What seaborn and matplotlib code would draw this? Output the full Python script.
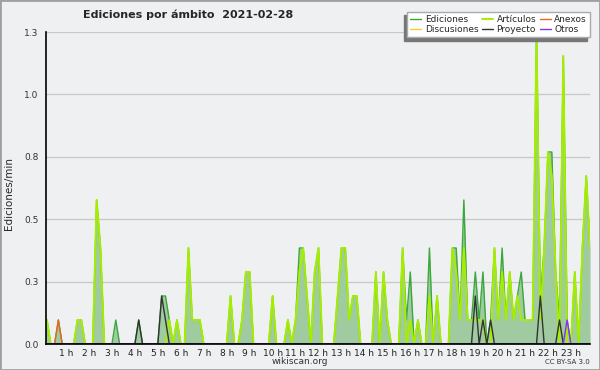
import numpy as np
import pandas as pd
import matplotlib
matplotlib.use("Agg")
import matplotlib.pyplot as plt
import seaborn as sns
from matplotlib.ticker import MultipleLocator, FixedLocator, FormatStrFormatter

# edits per 10-minute bin, 0:00 .. 23:50 (144 bins)
ediciones = [
    1, 1, 0, 0, 1, 0, 0, 0, 0, 1,
    1, 0, 0, 0, 6, 4, 0, 0, 0, 1,
    0, 0, 0, 0, 0, 1, 0, 0, 0, 0,
    0, 2, 2, 1, 0, 1, 0, 0, 4, 1,
    1, 1, 0, 0, 0, 0, 0, 0, 0, 2,
    0, 0, 1, 3, 3, 0, 0, 0, 0, 0,
    2, 0, 0, 0, 1, 0, 1, 4, 4, 2,
    0, 3, 4, 0, 0, 0, 0, 2, 4, 4,
    1, 2, 2, 0, 0, 0, 0, 3, 0, 3,
    1, 0, 0, 0, 4, 1, 3, 0, 1, 0,
    0, 4, 0, 2, 0, 0, 0, 4, 4, 1,
    6, 1, 1, 3, 1, 3, 0, 1, 4, 1,
    4, 1, 3, 1, 2, 3, 1, 1, 1, 13,
    2, 4, 8, 8, 3, 1, 12, 1, 0, 3,
    0, 4, 7, 4,
]
articulos = [
    1, 1, 0, 0, 0, 0, 0, 0, 0, 1,
    1, 0, 0, 0, 6, 4, 0, 0, 0, 0,
    0, 0, 0, 0, 0, 0, 0, 0, 0, 0,
    0, 0, 0, 1, 0, 1, 0, 0, 4, 1,
    1, 1, 0, 0, 0, 0, 0, 0, 0, 2,
    0, 0, 1, 3, 3, 0, 0, 0, 0, 0,
    2, 0, 0, 0, 1, 0, 1, 3, 4, 2,
    0, 3, 4, 0, 0, 0, 0, 2, 4, 4,
    1, 2, 2, 0, 0, 0, 0, 3, 0, 3,
    1, 0, 0, 0, 4, 0, 1, 0, 1, 0,
    0, 2, 0, 2, 0, 0, 0, 4, 3, 1,
    4, 1, 1, 1, 1, 1, 0, 0, 4, 1,
    3, 1, 3, 1, 2, 1, 1, 1, 1, 13,
    1, 4, 8, 7, 3, 0, 12, 0, 0, 3,
    0, 4, 7, 4,
]
proyecto = [0] * 144
for k, v in [(25, 1), (31, 2), (32, 1), (113, 2), (115, 1), (117, 1), (130, 2), (135, 1)]:
    proyecto[k] = v
anexos = [0] * 144
anexos[4] = 1
otros = [0] * 144
otros[137] = 1
discusiones = [0] * 144

hours = np.arange(144) / 6
hour_labels = [f"{h} h" for h in range(1, 24)]

# per-10-min counts -> edits per minute
series = {
    "Ediciones": np.array(ediciones) / 10,
    "Discusiones": np.array(discusiones) / 10,
    "Artículos": np.array(articulos) / 10,
    "Proyecto": np.array(proyecto) / 10,
    "Anexos": np.array(anexos) / 10,
    "Otros": np.array(otros) / 10,
}

bg = "#eff0f1"
sns.set_style("white")
plt.rcParams["font.family"] = ["DejaVu Sans"]

fig = plt.figure(figsize=(6, 3.7), dpi=100, facecolor=bg)
ax = fig.add_axes([45.5 / 600, 26 / 370, 544.5 / 600, 312 / 370])
ax.set_facecolor(bg)

ax.fill_between(hours, series["Ediciones"], color="#a0cba0", lw=0, zorder=1)

styles = [
    ("Ediciones", "#3aa83a", 1.0),
    ("Discusiones", "#ffcc33", 1.0),
    ("Artículos", "#a6ee00", 1.4),
    ("Anexos", "#ee6622", 1.0),
    ("Proyecto", "#333333", 1.0),
    ("Otros", "#8833ee", 1.0),
]
for name, col, lw in styles:
    sns.lineplot(x=hours, y=series[name], ax=ax, color=col, lw=lw,
                 label=name, estimator=None)

ax.set_xlim(0.105, 23.83)
ax.set_ylim(0, 1.3)
ax.yaxis.set_major_locator(FixedLocator([0, 0.26, 0.52, 0.78, 1.04, 1.3]))
ax.yaxis.set_major_formatter(FormatStrFormatter("%.1f"))
ax.yaxis.set_minor_locator(MultipleLocator(0.13))
ax.xaxis.set_major_locator(FixedLocator(list(range(1, 24))))
ax.set_xticklabels(hour_labels)
ax.xaxis.set_minor_locator(MultipleLocator(1 / 6))
ax.grid(axis="y", color="#c8c8c8", lw=0.9)
ax.set_axisbelow(True)

for s in ["top", "right"]:
    ax.spines[s].set_visible(False)
for s in ["left", "bottom"]:
    ax.spines[s].set_color("black")
    ax.spines[s].set_linewidth(1.2)
    ax.spines[s].set_zorder(5)

ax.tick_params(axis="y", which="major", length=4, width=0.8, labelsize=6.5,
               labelcolor="#333333", pad=1)
ax.tick_params(axis="y", which="minor", length=3, width=0.8)
ax.tick_params(axis="x", which="major", length=3, width=0.8, labelsize=6.5,
               labelcolor="#222222", pad=0.5)
ax.tick_params(axis="x", which="minor", length=3, width=0.8)
ax.set_xlabel("")
ax.set_ylabel("")

handles, labels = ax.get_legend_handles_labels()
order = ["Ediciones", "Discusiones", "Artículos", "Proyecto", "Anexos", "Otros"]
hmap = dict(zip(labels, handles))
ax.legend([hmap[n] for n in order], order, ncol=3, loc="upper right",
          bbox_to_anchor=(590 / 600, 1 - 12 / 370), bbox_transform=fig.transFigure,
          fontsize=6.5, frameon=True, fancybox=False, edgecolor="#aaaaaa",
          framealpha=1, shadow={"ox": -2.5, "oy": -2.5, "color": "#777777", "alpha": 1},
          handlelength=1.2, handletextpad=0.4, columnspacing=0.4,
          labelspacing=0.1, borderpad=0.35, borderaxespad=0)

fig.text(188 / 600, 1 - 15 / 370, "Ediciones por ámbito  2021-02-28",
         ha="center", va="center", fontsize=8, fontweight="bold")
fig.text(9 / 600, 1 - 194 / 370, "Ediciones/min", rotation=90,
         ha="center", va="center", fontsize=7.5)
fig.text(300 / 600, 1 - 361 / 370, "wikiscan.org", ha="center", va="center",
         fontsize=6.5, color="#333333")
fig.text(590 / 600, 1 - 362 / 370, "CC BY-SA 3.0", ha="right", va="center",
         fontsize=5, color="#333333")

fig.patches.append(plt.Rectangle((0, 0), 1, 1, transform=fig.transFigure,
                                 fill=False, edgecolor="#a0a0a0", lw=2))

fig.savefig("out.png", dpi=100, facecolor=bg)
